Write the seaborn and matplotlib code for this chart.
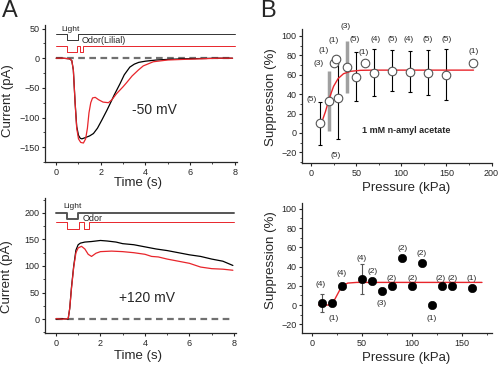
import numpy as np
import pandas as pd
import matplotlib
matplotlib.use("Agg")
import matplotlib.pyplot as plt
from matplotlib.ticker import MultipleLocator
import seaborn as sns

sns.set_style("ticks")
plt.rcParams['font.family'] = ['Liberation Sans', 'DejaVu Sans']

# ---- panel A, -50 mV traces (time s, current pA) ----
a1_t_ctrl = [0, 0.3, 0.6, 0.7, 0.77, 0.85, 0.92, 1.0, 1.08, 1.15, 1.3, 1.5, 1.67, 1.85, 2.05,
             2.27, 2.45, 2.6, 2.86, 3.05, 3.3, 3.5, 3.7, 4.0, 4.5, 5.0, 5.7, 6.5, 7.3, 7.9]
a1_i_ctrl = [0, 0, -1, -4, -20, -76, -115, -130, -135, -136, -134, -131, -127, -118, -104,
             -88, -74, -62, -43, -28, -15, -10, -7, -5, -3, -2, -1, -0.5, 0, 0]
a1_t_odor = [0, 0.3, 0.6, 0.7, 0.77, 0.85, 0.92, 1.0, 1.1, 1.22, 1.32, 1.4, 1.47, 1.55, 1.63,
             1.75, 1.9, 2.1, 2.34, 2.5, 2.7, 3.0, 3.16, 3.4, 3.68, 3.9, 4.35, 5.0, 5.7, 6.5, 7.3, 7.9]
a1_i_odor = [0, 0, -1, -4, -20, -76, -118, -136, -142, -143, -136, -118, -92, -75, -67,
             -66, -70, -74, -75, -70, -60, -48, -41, -30, -20, -13, -6, -3, -2, -1, 0, 0]
a1_light_t = [0, 0.5, 0.5, 1.0, 1.0, 8]
a1_light_y = [40, 40, 30, 30, 40, 40]
a1_odor_t = [0, 0.5, 0.5, 0.95, 0.95, 1.08, 1.08, 1.2, 1.2, 8]
a1_odor_y = [21, 21, 10, 10, 21, 21, 10, 10, 21, 21]

# ---- panel A, +120 mV traces ----
a2_t_ctrl = [0, 0.3, 0.55, 0.62, 0.7, 0.8, 0.9, 1.0, 1.1, 1.3, 1.6, 2.0, 2.3, 2.7, 3.0, 3.5,
             4.0, 4.5, 5.0, 5.5, 6.0, 6.5, 7.0, 7.5, 7.95]
a2_i_ctrl = [0, 1, 0, 20, 60, 100, 130, 140, 143, 145, 146, 148, 147, 145, 142, 140,
             136, 132, 129, 125, 121, 118, 113, 109, 101]
a2_t_odor = [0, 0.3, 0.55, 0.62, 0.7, 0.8, 0.9, 1.0, 1.15, 1.3, 1.45, 1.6, 1.8, 2.0, 2.5, 3.0,
             3.5, 4.0, 4.3, 4.6, 5.0, 5.5, 6.0, 6.5, 7.0, 7.5, 7.95]
a2_i_odor = [1, 0, 1, 20, 58, 98, 125, 134, 137, 132, 122, 118, 124, 127, 128, 127,
             125, 122, 118, 117, 113, 109, 105, 98, 95, 94, 92]
a2_light_t = [0, 0.5, 0.5, 1.0, 1.0, 8]
a2_light_y = [200, 200, 189, 189, 200, 200]
a2_odor_t = [0, 0.48, 0.48, 1.05, 1.05, 1.28, 1.28, 1.5, 1.5, 8]
a2_odor_y = [182, 182, 170, 170, 182, 182, 170, 170, 182, 182]

base_t = [0, 7.9]
base_i = [0, 0]

# ---- panel B, n-amyl acetate ----
b1_p = [10, 20, 25, 28, 30, 40, 50, 60, 70, 90, 110, 130, 150, 180]
b1_s = [10, 33, 72, 76, 36, 68, 58, 72, 62, 64, 63, 62, 60, 72]
b1_err = [22, 31, 0, 0, 42, 27, 25, 0, 24, 21, 21, 23, 26, 0]
b1_grey = [False, True, False, False, False, True, False, False, False, False, False, False, False, False]
b1_n = ['(5)', '(3)', '(1)', '(1)', '(5)', '(3)', '(5)', '(1)', '(4)', '(5)', '(4)', '(5)', '(5)', '(1)']
b1_nx = [1, 8, 14, 25, 27, 38, 48, 58.5, 71.5, 90, 108.5, 129, 150, 180.5]
b1_ny = [34, 72, 85, 95, -23, 110, 96.5, 83, 96.5, 96.5, 96.5, 96, 96.5, 84]
b1_fit_p = [10, 13, 16, 20, 25, 30, 36, 44, 55, 70, 180]
b1_fit_s = [9, 14, 22, 35, 48, 56, 61, 63.5, 64.5, 64.7, 64.7]

# ---- panel B, lower ----
b2_p = [10, 20, 30, 50, 60, 70, 80, 90, 100, 110, 120, 130, 140, 160]
b2_s = [2, 2, 20, 27, 25, 15, 20, 49, 20, 44, 0.5, 20, 20, 18]
b2_err = [9, 0, 0, 16, 0, 0, 0, 0, 0, 0, 0, 0, 0, 0]
b2_n = ['(4)', '(1)', '(4)', '(4)', '(2)', '(3)', '(2)', '(2)', '(2)', '(2)', '(1)', '(2)', '(2)', '(1)']
b2_nx = [9, 21.5, 30, 50, 61, 70, 80, 91, 101, 110, 120, 129, 141, 160]
b2_ny = [21, -14, 33, 48, 35, 2, 28, 59, 28, 54, -14, 28, 28, 28]
b2_fit_p = [7, 20, 30, 36, 45, 170]
b2_fit_s = [0, 0, 19.5, 22.8, 23.5, 23.5]

red = '#e8252b'
tick_fs = 6.5
lab_fs = 9.5

fig = plt.figure(figsize=(5, 3.66), dpi=100)
ax1 = fig.add_axes([0.09, 0.5574, 0.384, 0.3743])
ax2 = fig.add_axes([0.09, 0.0902, 0.382, 0.369])
ax3 = fig.add_axes([0.604, 0.5546, 0.38, 0.366])
ax4 = fig.add_axes([0.604, 0.0893, 0.38, 0.355])


def style(ax, xmaj, ymaj):
    sns.despine(ax=ax)
    ax.xaxis.set_major_locator(MultipleLocator(xmaj))
    ax.xaxis.set_minor_locator(MultipleLocator(xmaj / 2))
    ax.yaxis.set_major_locator(MultipleLocator(ymaj))
    ax.yaxis.set_minor_locator(MultipleLocator(ymaj / 2))
    ax.tick_params(which='major', length=2.5, width=0.8, labelsize=tick_fs, pad=1.5)
    ax.tick_params(which='minor', length=1.5, width=0.6)
    for s in ['left', 'bottom']:
        ax.spines[s].set_linewidth(0.9)


# A top
sns.lineplot(x=base_t, y=base_i, ax=ax1, color='#707070', lw=1.6, linestyle=(0, (3, 2)))
sns.lineplot(x=a1_light_t, y=a1_light_y, ax=ax1, color='#333333', lw=0.7, sort=False, estimator=None)
sns.lineplot(x=a1_odor_t, y=a1_odor_y, ax=ax1, color=red, lw=0.7, sort=False, estimator=None)
sns.lineplot(x=a1_t_ctrl, y=a1_i_ctrl, ax=ax1, color='black', lw=0.9, sort=False, estimator=None)
sns.lineplot(x=a1_t_odor, y=a1_i_odor, ax=ax1, color=red, lw=0.9, sort=False, estimator=None)
ax1.set_xlim(-0.5, 8.1)
ax1.set_ylim(-175, 56)
style(ax1, 2, 50)
ax1.text(0.63, 48, 'Light', fontsize=6, ha='center', va='center')
ax1.text(1.12, 30, 'Odor(Lilial)', fontsize=6.5, ha='left', va='center')
ax1.text(4.4, -88, '-50 mV', fontsize=10, ha='center', va='center')
ax1.set_xlabel('Time (s)', fontsize=lab_fs)
ax1.set_ylabel('Current (pA)', fontsize=lab_fs)
ax1.xaxis.set_label_coords(0.485, -0.11)
ax1.yaxis.set_label_coords(-0.16, 0.45)

# A bottom
sns.lineplot(x=base_t, y=base_i, ax=ax2, color='#707070', lw=1.6, linestyle=(0, (3, 2)))
sns.lineplot(x=a2_light_t, y=a2_light_y, ax=ax2, color='#555555', lw=1.4, sort=False, estimator=None)
sns.lineplot(x=a2_odor_t, y=a2_odor_y, ax=ax2, color=red, lw=0.7, sort=False, estimator=None)
sns.lineplot(x=a2_t_ctrl, y=a2_i_ctrl, ax=ax2, color='black', lw=0.9, sort=False, estimator=None)
sns.lineplot(x=a2_t_odor, y=a2_i_odor, ax=ax2, color=red, lw=0.9, sort=False, estimator=None)
ax2.set_xlim(-0.49, 8.09)
ax2.set_ylim(-26, 228)
style(ax2, 2, 50)
ax2.text(0.75, 212, 'Light', fontsize=6, ha='center', va='center')
ax2.text(1.2, 190, 'Odor', fontsize=6.5, ha='left', va='center')
ax2.text(4.1, 40, '+120 mV', fontsize=10, ha='center', va='center')
ax2.set_xlabel('Time (s)', fontsize=lab_fs)
ax2.set_ylabel('Current (pA)', fontsize=lab_fs)
ax2.xaxis.set_label_coords(0.485, -0.125)
ax2.yaxis.set_label_coords(-0.165, 0.42)

# B top
df1 = pd.DataFrame({'p': b1_p, 's': b1_s, 'err': b1_err, 'grey': b1_grey})
blk = df1[(~df1.grey) & (df1.err > 0)]
gry = df1[df1.grey]
ax3.errorbar(blk.p, blk.s, yerr=blk.err, fmt='none', ecolor='black', elinewidth=0.8, capsize=1.5, capthick=0.8)
ax3.errorbar(gry.p, gry.s, yerr=gry.err, fmt='none', ecolor='#a0a0a0', elinewidth=2.5, capsize=0)
sns.lineplot(x=b1_fit_p, y=b1_fit_s, ax=ax3, color=red, lw=1.0, zorder=3)
sns.scatterplot(data=df1, x='p', y='s', ax=ax3, s=38, facecolor='white', edgecolor='#555555',
                linewidth=0.8, zorder=4)
for x, y, t in zip(b1_nx, b1_ny, b1_n):
    ax3.text(x, y, t, fontsize=6, ha='center', va='center', clip_on=False)
ax3.text(105, 3, '1 mM n-amyl acetate', fontsize=6.5, fontweight='bold', ha='center', va='center')
ax3.set_xlim(-10, 200.5)
ax3.set_ylim(-31, 107)
style(ax3, 50, 20)
ax3.set_xlabel('Pressure (kPa)', fontsize=lab_fs)
ax3.set_ylabel('Suppression (%)', fontsize=lab_fs)
ax3.xaxis.set_label_coords(0.55, -0.14)
ax3.yaxis.set_label_coords(-0.13, 0.49)

# B bottom
df2 = pd.DataFrame({'p': b2_p, 's': b2_s, 'err': b2_err})
eb = df2[df2.err > 0]
ax4.errorbar(eb.p, eb.s, yerr=eb.err, fmt='none', ecolor='#555555', elinewidth=0.8, capsize=1.5, capthick=0.8)
sns.lineplot(x=b2_fit_p, y=b2_fit_s, ax=ax4, color=red, lw=1.0, zorder=3)
sns.scatterplot(data=df2, x='p', y='s', ax=ax4, s=36, color='black', edgecolor='black', zorder=4)
for x, y, t in zip(b2_nx, b2_ny, b2_n):
    ax4.text(x, y, t, fontsize=6, ha='center', va='center', clip_on=False)
ax4.set_xlim(-9.7, 180)
ax4.set_ylim(-29.4, 105.6)
style(ax4, 50, 20)
ax4.set_xlabel('Pressure (kPa)', fontsize=lab_fs)
ax4.set_ylabel('Suppression (%)', fontsize=lab_fs)
ax4.xaxis.set_label_coords(0.55, -0.145)
ax4.yaxis.set_label_coords(-0.133, 0.56)

fig.text(0.004, 0.9536, 'A', fontsize=17, va='baseline')
fig.text(0.52, 0.9536, 'B', fontsize=17, va='baseline')

fig.savefig('out.png', dpi=100)
